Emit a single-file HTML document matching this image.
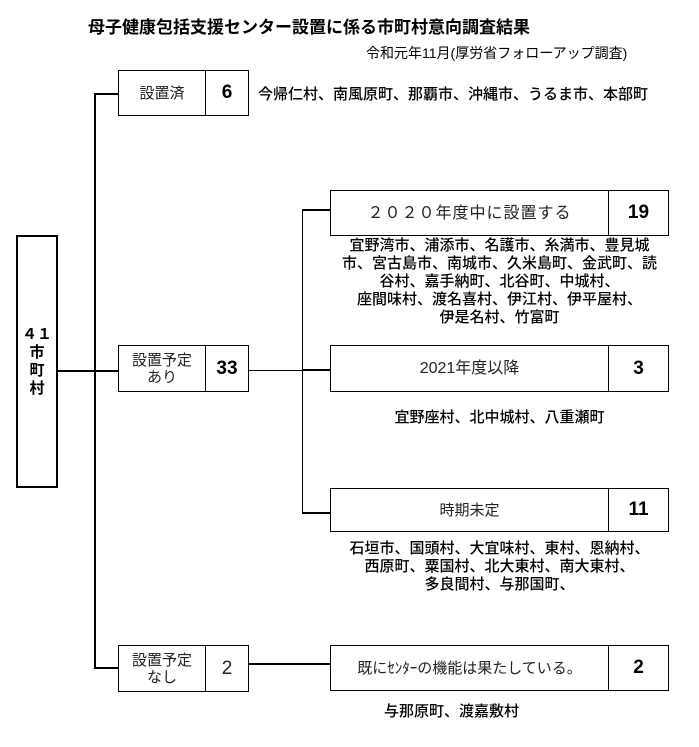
<!DOCTYPE html>
<html><head><meta charset="utf-8">
<style>
body{margin:0;width:699px;height:747px;background:#fff;position:relative;overflow:hidden;font-family:"Liberation Sans","Noto Sans CJK JP",sans-serif;color:#000}
.a{position:absolute}
.b{position:absolute;border:1px solid #000;box-sizing:border-box;display:flex;align-items:center;justify-content:center;text-align:center;background:#fff}
.h{position:absolute;height:0;border-top:2px solid #000}
.v{position:absolute;width:0;border-left:2px solid #000}
.lab{font-size:15px;line-height:17px;color:#222}
.num{font-size:19px;font-weight:bold}
.list{position:absolute;text-align:center;font-size:15px;line-height:18px;font-weight:500;white-space:nowrap}
</style></head><body>
<div class="a" style="left:88px;top:13px;font-size:17px;font-weight:bold;white-space:nowrap">母子健康包括支援センター設置に係る市町村意向調査結果</div>
<div class="a" style="left:366px;top:43px;font-size:14px;white-space:nowrap">令和元年11月(厚労省フォローアップ調査)</div>

<div class="b" style="left:16px;top:235px;width:42px;height:253px;border-width:2px;font-weight:bold;font-size:15px;line-height:18px">４１<br>市<br>町<br>村</div>

<!-- trunk -->
<div class="v" style="left:94px;top:94px;height:575px"></div>
<div class="h" style="left:94px;top:93px;width:24px"></div>
<div class="h" style="left:58px;top:370px;width:60px"></div>
<div class="h" style="left:94px;top:667px;width:24px"></div>

<!-- box 1 -->
<div class="b lab" style="left:118px;top:70px;width:88px;height:46px">設置済</div>
<div class="b num" style="left:205px;top:70px;width:44px;height:46px;font-weight:bold">6</div>
<div class="a" style="left:258px;top:83px;font-size:15px;white-space:nowrap;font-weight:500">今帰仁村、南風原町、那覇市、沖縄市、うるま市、本部町</div>

<!-- box 2 -->
<div class="b lab" style="left:118px;top:345px;width:88px;height:47px">設置予定<br>あり</div>
<div class="b num" style="left:205px;top:345px;width:44px;height:47px">33</div>
<div class="h" style="left:248px;top:370px;width:82px;border-top-width:1px"></div>
<div class="v" style="left:302px;top:210px;height:304px;border-left-width:1px"></div>
<div class="h" style="left:302px;top:209px;width:28px"></div>
<div class="h" style="left:302px;top:369px;width:28px"></div>
<div class="h" style="left:302px;top:512px;width:28px"></div>

<!-- right boxes -->
<div class="b lab" style="left:330px;top:190px;width:279px;height:46px;font-size:16px;letter-spacing:1px">２０２０年度中に設置する</div>
<div class="b num" style="left:608px;top:190px;width:61px;height:46px">19</div>
<div class="list" style="left:330px;top:237px;width:339px">宜野湾市、浦添市、名護市、糸満市、豊見城<br>市、宮古島市、南城市、久米島町、金武町、読<br>谷村、嘉手納町、北谷町、中城村、<br>座間味村、渡名喜村、伊江村、伊平屋村、<br>伊是名村、竹富町</div>

<div class="b lab" style="left:330px;top:345px;width:279px;height:47px;font-size:16px">2021年度以降</div>
<div class="b num" style="left:608px;top:345px;width:61px;height:47px">3</div>
<div class="list" style="left:330px;top:409px;width:339px">宜野座村、北中城村、八重瀬町</div>

<div class="b lab" style="left:330px;top:488px;width:279px;height:44px">時期未定</div>
<div class="b num" style="left:608px;top:488px;width:61px;height:44px">11</div>
<div class="list" style="left:330px;top:540px;width:339px">石垣市、国頭村、大宜味村、東村、恩納村、<br>西原町、粟国村、北大東村、南大東村、<br>多良間村、与那国町、</div>

<!-- bottom -->
<div class="b lab" style="left:118px;top:645px;width:88px;height:47px">設置予定<br>なし</div>
<div class="b lab" style="left:205px;top:645px;width:44px;height:47px;font-size:19px">2</div>
<div class="h" style="left:248px;top:663px;width:82px"></div>
<div class="b lab" style="left:330px;top:645px;width:279px;height:46px">既にｾﾝﾀｰの機能は果たしている。</div>
<div class="b num" style="left:608px;top:645px;width:61px;height:46px">2</div>
<div class="list" style="left:330px;top:703px;width:339px;text-align:left;padding-left:54px">与那原町、渡嘉敷村</div>
</body></html>
